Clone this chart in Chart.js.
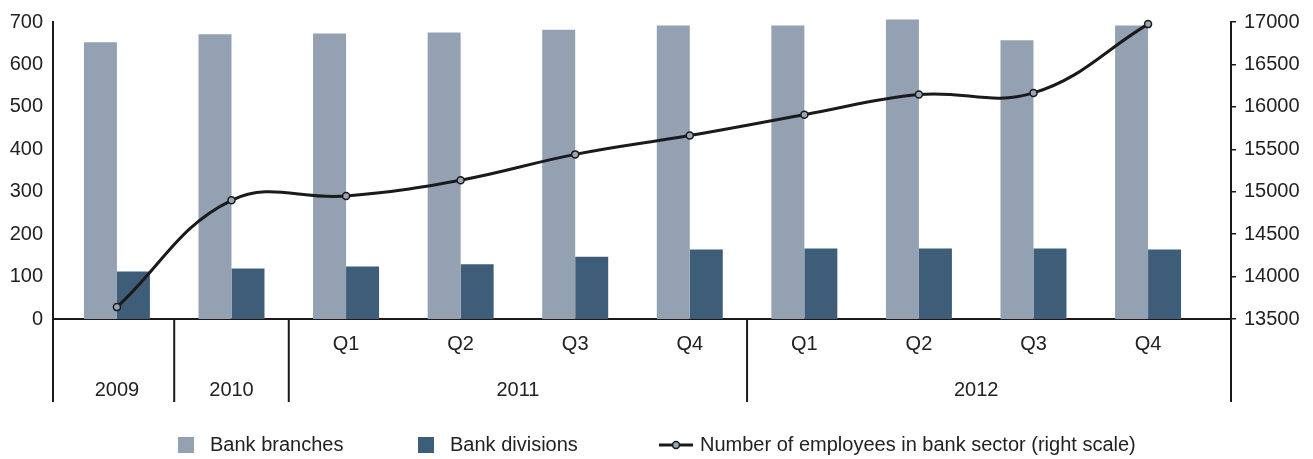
<!DOCTYPE html>
<html>
<head>
<meta charset="utf-8">
<script src="https://cdn.jsdelivr.net/npm/chart.js@4"></script>
<style>
  html, body { margin: 0; padding: 0; background: #ffffff; }
  #wrap { width: 1313px; height: 459px; }
</style>
</head>
<body>
<div id="wrap"><canvas id="c" width="1313" height="459"></canvas></div>
<script>
// ---- data ----
const quarterLabels = ['', '', 'Q1', 'Q2', 'Q3', 'Q4', 'Q1', 'Q2', 'Q3', 'Q4'];
const yearLabels = ['2009', '2010', '2011', '2011', '2011', '2011', '2012', '2012', '2012', '2012'];
const bankBranches = [652, 671, 673, 675, 682, 692, 692, 706, 657, 692];
const bankDivisions = [112, 119, 124, 129, 147, 164, 166, 166, 166, 164];
const employees = [13640, 14899, 14949, 15136, 15440, 15662, 15907, 16145, 16164, 16975];
const leftTicks = [0, 100, 200, 300, 400, 500, 600, 700];
const rightTicks = [13500, 14000, 14500, 15000, 15500, 16000, 16500, 17000];
const seriesNames = ['Bank branches', 'Bank divisions', 'Number of employees in bank sector (right scale)'];

const FONT = '"Liberation Sans", Arial, sans-serif';
const FSIZE = 20;
const TXT = '#222222';
const AX = '#1a1a1a';
const C_BR = '#94a1b2';
const C_DIV = '#3e5d79';

const idx = quarterLabels.map((_, i) => i);

const tablePlugin = {
  id: 'tablePlugin',
  afterDraw(chart) {
    const ctx = chart.ctx;
    const xs = chart.scales.x;
    const area = chart.chartArea;
    const bottom = 402;
    ctx.save();
    ctx.strokeStyle = AX;
    ctx.lineWidth = 2;
    const seps = [area.left, area.right];
    for (let i = 0; i < yearLabels.length - 1; i++) {
      if (yearLabels[i] !== yearLabels[i + 1]) seps.push(xs.getPixelForValue(i + 0.5));
    }
    seps.forEach(x => {
      ctx.beginPath();
      ctx.moveTo(x, area.bottom);
      ctx.lineTo(x, bottom);
      ctx.stroke();
    });
    ctx.fillStyle = TXT;
    ctx.font = FSIZE + 'px ' + FONT;
    ctx.textAlign = 'center';
    ctx.textBaseline = 'middle';
    quarterLabels.forEach((q, i) => {
      if (q) ctx.fillText(q, xs.getPixelForValue(i), 344);
    });
    const groups = {};
    yearLabels.forEach((y, i) => { (groups[y] = groups[y] || []).push(i); });
    Object.keys(groups).forEach(y => {
      const g = groups[y];
      const x = (xs.getPixelForValue(g[0]) + xs.getPixelForValue(g[g.length - 1])) / 2;
      ctx.fillText(y, x, 390);
    });
    // legend
    const ly = 445;
    ctx.textAlign = 'left';
    ctx.fillStyle = C_BR;
    ctx.fillRect(178, ly - 8, 16, 16);
    ctx.fillStyle = TXT;
    ctx.fillText(seriesNames[0], 210, ly);
    ctx.fillStyle = C_DIV;
    ctx.fillRect(418, ly - 8, 16, 16);
    ctx.fillStyle = TXT;
    ctx.fillText(seriesNames[1], 450, ly);
    ctx.strokeStyle = AX;
    ctx.lineWidth = 3;
    ctx.beginPath();
    ctx.moveTo(659, ly);
    ctx.lineTo(693, ly);
    ctx.stroke();
    ctx.beginPath();
    ctx.arc(676, ly, 3.5, 0, Math.PI * 2);
    ctx.fillStyle = '#9aa6b6';
    ctx.fill();
    ctx.lineWidth = 1.5;
    ctx.stroke();
    ctx.fillStyle = TXT;
    ctx.fillText(seriesNames[2], 700, ly);
    ctx.restore();
  }
};

new Chart(document.getElementById('c'), {
  type: 'bar',
  data: {
    datasets: [
      {
        type: 'line',
        label: seriesNames[2],
        data: idx.map(i => ({ x: i, y: employees[i] })),
        yAxisID: 'y1',
        borderColor: AX,
        borderWidth: 3,
        tension: 0.4,
        pointRadius: 3.5,
        pointBackgroundColor: '#9aa6b6',
        pointBorderColor: AX,
        pointBorderWidth: 1.5,
        order: 0,
        clip: false
      },
      {
        label: seriesNames[0],
        data: idx.map(i => ({ x: i, y: bankBranches[i] })),
        backgroundColor: C_BR,
        yAxisID: 'y',
        order: 1,
        clip: false,
        categoryPercentage: 0.576,
        barPercentage: 1.0
      },
      {
        label: seriesNames[1],
        data: idx.map(i => ({ x: i, y: bankDivisions[i] })),
        backgroundColor: C_DIV,
        yAxisID: 'y',
        order: 1,
        clip: false,
        categoryPercentage: 0.576,
        barPercentage: 1.0
      }
    ]
  },
  options: {
    responsive: false,
    animation: false,
    layout: { padding: { top: 19, left: 0, right: 0, bottom: 0 } },
    plugins: { legend: { display: false }, tooltip: { enabled: false } },
    scales: {
      x: {
        type: 'linear',
        min: -0.558,
        max: 9.724,
        offset: false,
        grid: { display: false, offset: false, drawTicks: false },
        ticks: { display: false },
        border: { display: true, color: AX, width: 2 },
        afterFit(s) { s.height = 140; }
      },
      y: {
        position: 'left',
        min: leftTicks[0],
        max: leftTicks[leftTicks.length - 1],
        afterBuildTicks(s) { s.ticks = leftTicks.map(v => ({ value: v })); },
        grid: { display: false, drawTicks: false },
        border: { display: true, color: AX, width: 2 },
        ticks: { color: TXT, font: { family: FONT, size: FSIZE }, padding: 10, callback: v => String(v) },
        afterFit(s) { s.width = 53; }
      },
      y1: {
        position: 'right',
        min: rightTicks[0],
        max: rightTicks[rightTicks.length - 1],
        afterBuildTicks(s) { s.ticks = rightTicks.map(v => ({ value: v })); },
        grid: { display: true, drawOnChartArea: false, drawTicks: true, tickLength: 5, color: AX, lineWidth: 1.5 },
        border: { display: true, color: AX, width: 2 },
        ticks: { color: TXT, font: { family: FONT, size: FSIZE }, padding: 8, callback: v => String(v) },
        afterFit(s) { s.width = 82; }
      }
    }
  },
  plugins: [tablePlugin]
});
</script>
</body>
</html>
